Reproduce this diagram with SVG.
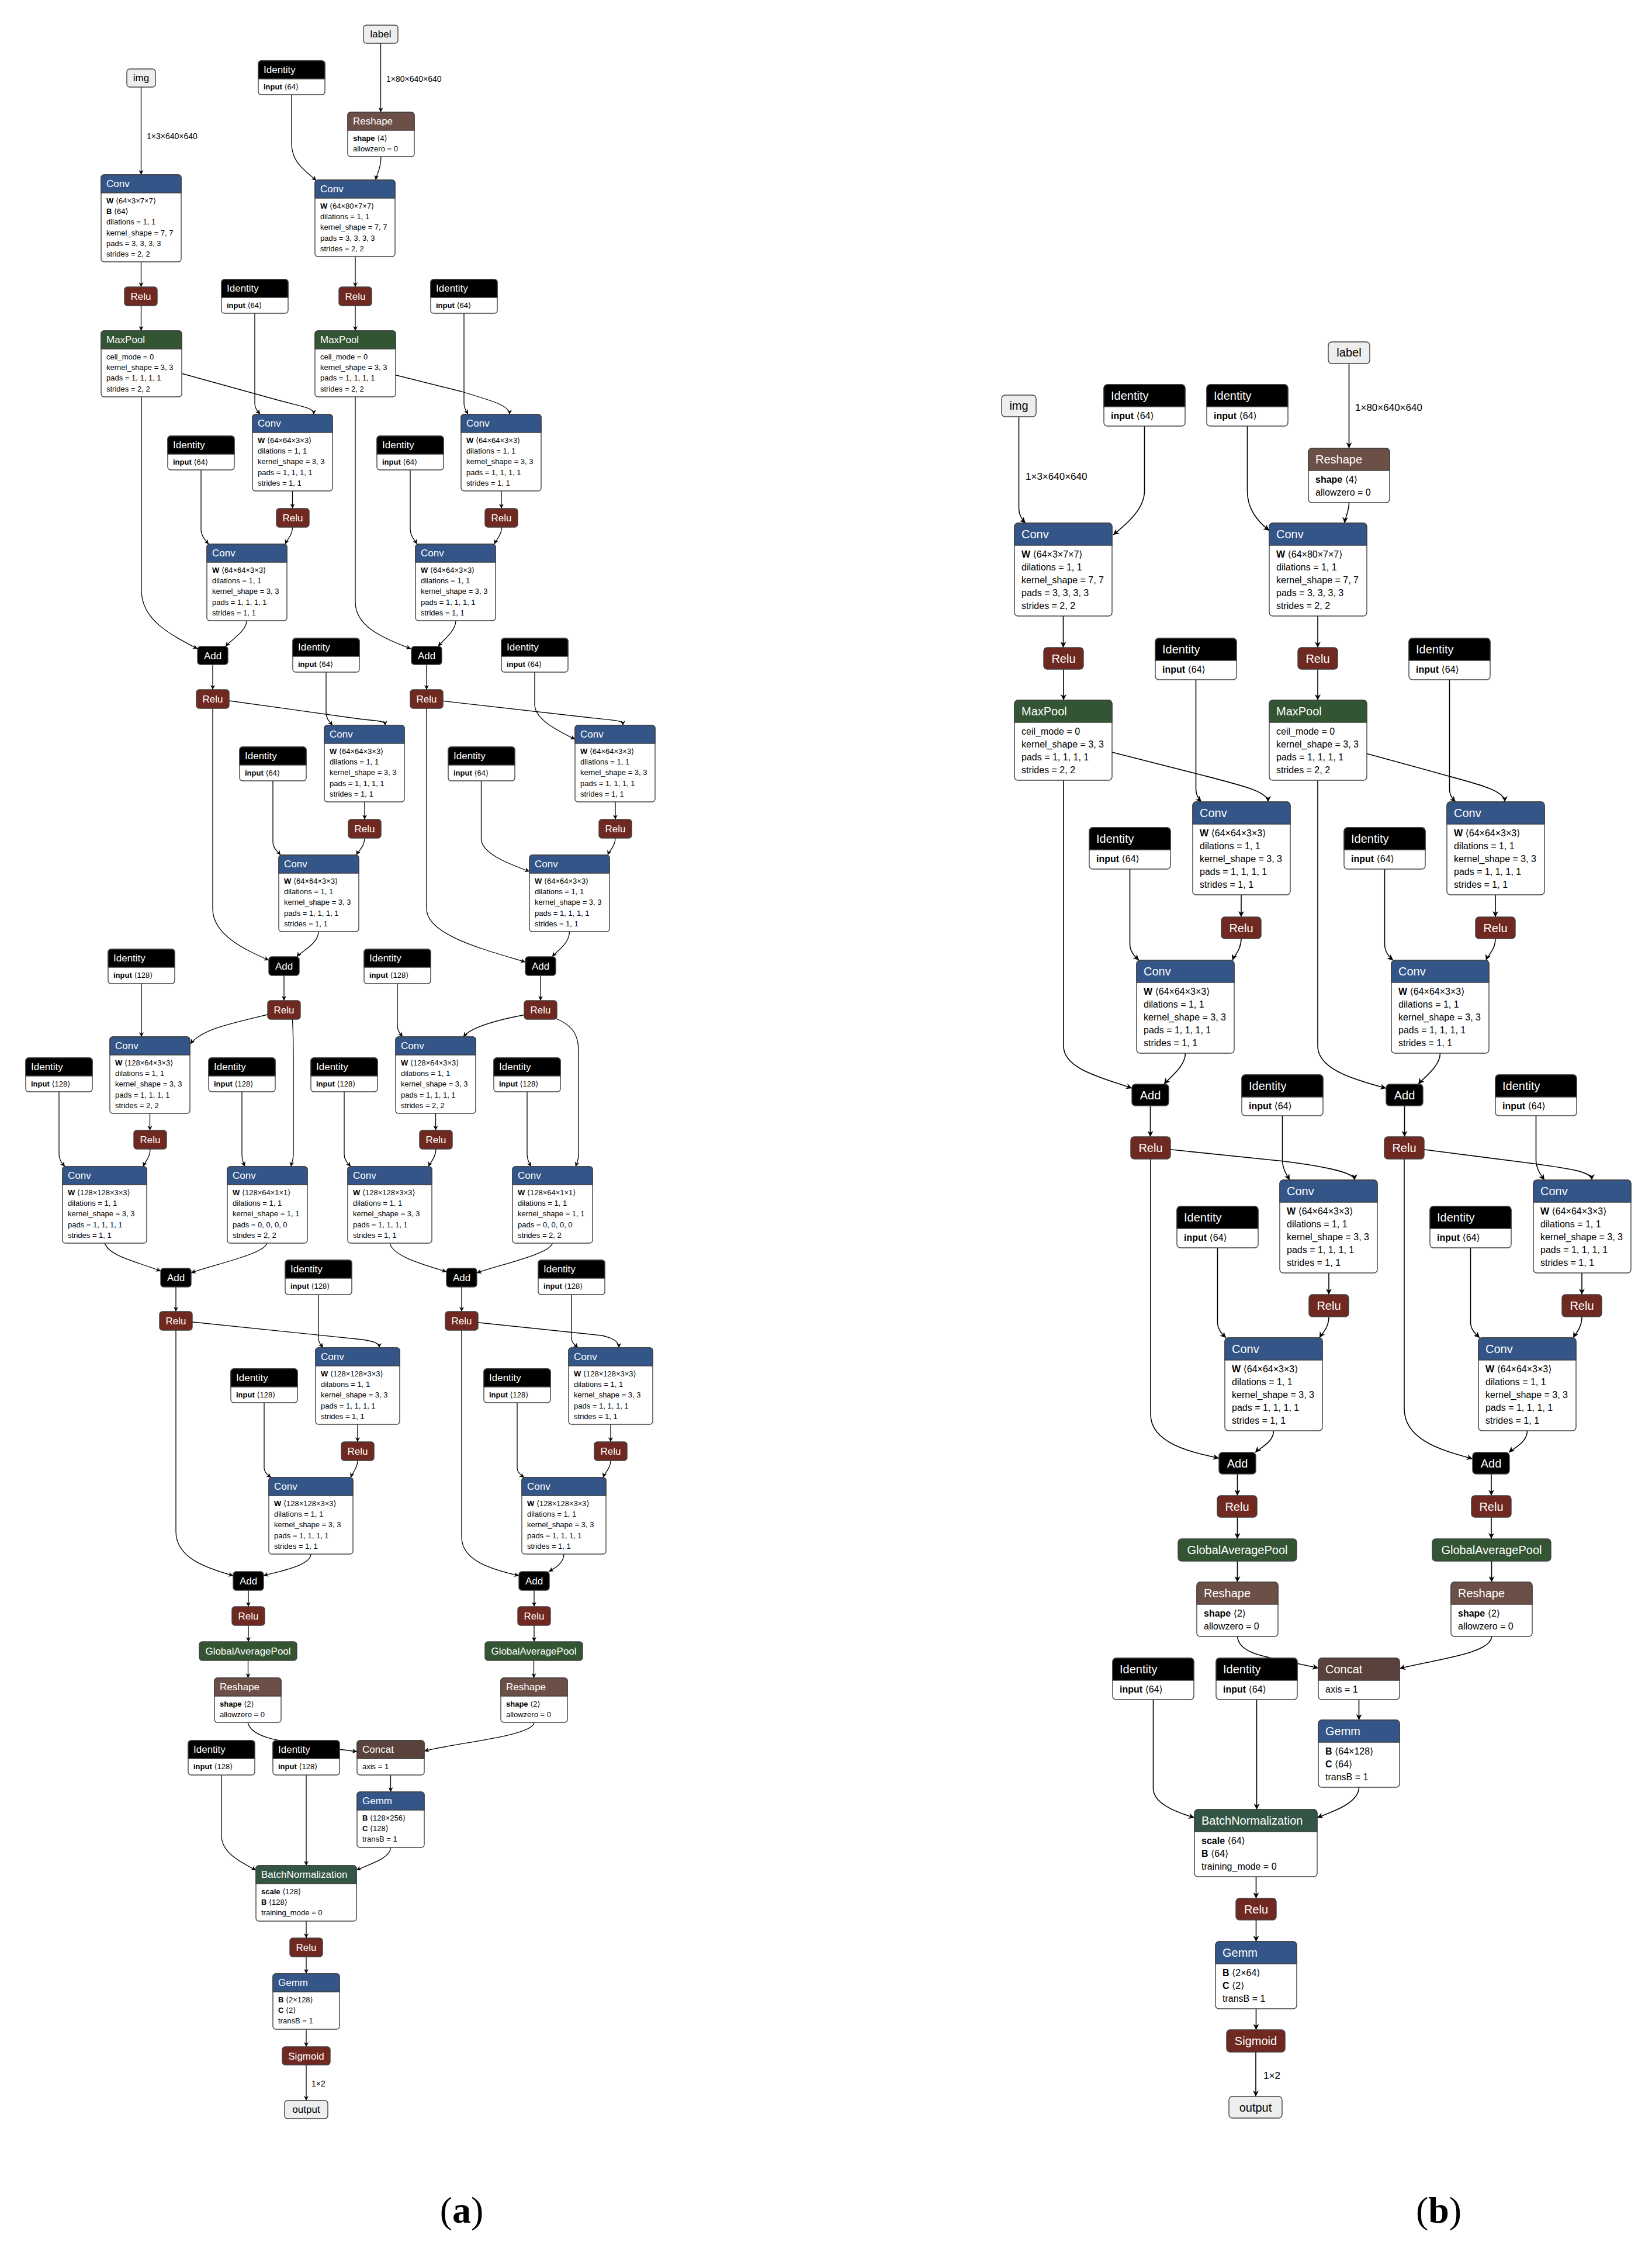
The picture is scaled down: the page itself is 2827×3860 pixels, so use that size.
<svg xmlns="http://www.w3.org/2000/svg" width="2827" height="3860" viewBox="0 0 2827 3860">
<style>
text{font-family:"Liberation Sans","DejaVu Sans",sans-serif}
.t{fill:#fff}.k{fill:#000}.c{text-anchor:middle}.b{font-weight:bold}
.ga .t,.ga .k{font-size:17px}.ga .a{font-size:13px}
.gb .t,.gb .k{font-size:20px}.gb .a{font-size:16px}
.bd{fill:#fff;stroke:#404040;stroke-width:1.4}
.h{stroke:#404040;stroke-width:1.4}
.cv{fill:#335588}.ac{fill:#702921}.pl{fill:#335533}.nm{fill:#335544}.sh{fill:#6c4f47}.tn{fill:#59423b}.bk{fill:#000}.io{fill:#eeeeee}
.la{font-size:14px}.lb{font-size:17px}
.cap{font-family:"Liberation Serif","DejaVu Serif",serif;font-size:64px}
</style>
<defs>
<marker id="ma" viewBox="0 0 10 10" refX="10" refY="5" markerWidth="9" markerHeight="8" orient="auto" markerUnits="userSpaceOnUse"><path d="M0,0L10,5L0,10L3,5z" fill="#000" stroke="none"/></marker>
<marker id="mb" viewBox="0 0 10 10" refX="10" refY="5" markerWidth="11" markerHeight="10" orient="auto" markerUnits="userSpaceOnUse"><path d="M0,0L10,5L0,10L3,5z" fill="#000" stroke="none"/></marker>
</defs>
<rect width="2827" height="3860" fill="#fff"/>
<g id="connectors" fill="none" stroke="#000">
<g id="conn-a" stroke-width="1.3" marker-end="url(#ma)">
<path d="M241.5,149V299"/>
<path d="M651.5,74V192"/>
<path d="M499,162V245C499,280 525,293 541,309"/>
<path d="M652,268C652,290 645,295 643,308"/>
<path d="M241.5,448V491"/>
<path d="M608,439V491"/>
<path d="M241.5,523V566"/>
<path d="M608,523V566"/>
<path d="M436,536V690C436,700 442,705 445,709"/>
<path d="M300,636L470,683C520,697 537,697 537,709"/>
<path d="M500.5,840V870"/>
<path d="M344,804V905C344,917 352,925 357,931"/>
<path d="M500.5,902C500.5,915 492,922 488,931"/>
<path d="M242,679V1010C242,1060 290,1085 338,1110"/>
<path d="M422,1062C422,1080 395,1095 386,1106"/>
<path d="M364,1137V1180"/>
<path d="M385,1198L600,1228C650,1235 659,1232 659,1241"/>
<path d="M558,1150V1220C558,1230 565,1236 569,1241"/>
<path d="M364,1212V1555C364,1600 420,1625 460,1643"/>
<path d="M794,536V690C794,700 799,705 801,709"/>
<path d="M670,640L790,670C850,688 872,695 872,709"/>
<path d="M858,840V870"/>
<path d="M702,804V905C702,917 710,925 714,931"/>
<path d="M858.5,902C858.5,915 850,922 846,931"/>
<path d="M608,679V1030C608,1070 650,1090 703,1110"/>
<path d="M780,1062C780,1080 758,1095 750,1106"/>
<path d="M730,1137V1180"/>
<path d="M755,1199L1010,1228C1055,1233 1066,1232 1066,1241"/>
<path d="M915,1150V1205C915,1230 950,1248 984,1265"/>
<path d="M730,1212V1555C730,1600 830,1625 899,1646"/>
<path d="M624,1372V1402"/>
<path d="M467,1336V1440C467,1452 476,1458 480,1463"/>
<path d="M624,1434C624,1448 614,1455 610,1463"/>
<path d="M545,1594C545,1615 515,1628 508,1637"/>
<path d="M486,1669V1712"/>
<path d="M470,1733C400,1750 345,1760 326,1786"/>
<path d="M500,1740C502,1760 502,1790 502,1820V1975C502,1985 499,1990 498,1996"/>
<path d="M1053,1372V1402"/>
<path d="M823.5,1336V1435C823.5,1460 870,1478 906,1491"/>
<path d="M1053,1434C1053,1448 1043,1455 1040,1463"/>
<path d="M974.5,1594C974.5,1615 952,1628 945,1637"/>
<path d="M925,1669V1712"/>
<path d="M905,1735C850,1745 805,1758 793,1774"/>
<path d="M945,1740C985,1755 990,1775 990,1800V1975C990,1985 987,1990 985,1996"/>
<path d="M242,1683V1774"/>
<path d="M256.5,1904V1934"/>
<path d="M101,1868V1975C101,1985 107,1991 111,1996"/>
<path d="M257,1966C257,1980 248,1988 245,1996"/>
<path d="M414,1868V1975C414,1985 417,1991 419,1996"/>
<path d="M179,2126C185,2150 240,2160 275,2175"/>
<path d="M457,2126C457,2145 360,2165 327,2178"/>
<path d="M301,2202V2244"/>
<path d="M320,2261L620,2292C640,2295 649,2298 649,2306"/>
<path d="M545,2215V2290C545,2298 550,2302 553,2306"/>
<path d="M301,2276V2620C301,2665 350,2682 399,2696"/>
<path d="M680,1683V1755C680,1765 686,1770 689,1774"/>
<path d="M745.5,1904V1934"/>
<path d="M589,1868V1975C589,1985 596,1991 600,1996"/>
<path d="M746,1966C746,1980 737,1988 733,1996"/>
<path d="M902,1868V1975C902,1985 906,1991 909,1996"/>
<path d="M667,2126C670,2150 730,2165 764,2176"/>
<path d="M945.5,2126C945.5,2145 850,2165 816,2178"/>
<path d="M790,2202V2244"/>
<path d="M810,2262L1030,2285C1050,2290 1059,2295 1059,2306"/>
<path d="M978,2215V2290C978,2298 985,2302 989,2306"/>
<path d="M790,2276V2630C790,2670 840,2685 888,2696"/>
<path d="M612,2437V2467"/>
<path d="M452,2400V2512C452,2520 460,2525 464,2528"/>
<path d="M612,2499C612,2512 603,2520 600,2528"/>
<path d="M532,2659C532,2680 470,2690 451,2696"/>
<path d="M425,2721V2749"/>
<path d="M425,2781V2809"/>
<path d="M424.5,2841V2871"/>
<path d="M424,2947C430,2975 490,2980 520,2985L611,2997"/>
<path d="M1045,2437V2467"/>
<path d="M885,2400V2512C885,2520 893,2525 897,2528"/>
<path d="M1045,2499C1045,2512 1035,2520 1032,2528"/>
<path d="M965,2659C965,2675 948,2684 939,2689"/>
<path d="M914,2721V2749"/>
<path d="M914,2781V2809"/>
<path d="M913.5,2841V2871"/>
<path d="M914,2947C914,2970 780,2982 726,2996"/>
<path d="M668.5,3037V3066"/>
<path d="M379,3037V3140C379,3170 410,3185 438,3200"/>
<path d="M524,3037V3192"/>
<path d="M668.5,3161C668.5,3180 630,3190 610,3200"/>
<path d="M524,3287V3316"/>
<path d="M524,3348V3377"/>
<path d="M524,3472V3502"/>
<path d="M524,3533V3594"/>
</g>
<g id="conn-b" stroke-width="1.6" marker-end="url(#mb)">
<path d="M1743.5,713V870C1743.5,882 1750,890 1755,895"/>
<path d="M1958.5,729V840C1958.5,870 1930,895 1905,915"/>
<path d="M2134.5,729V840C2134.5,870 2150,890 2172,908"/>
<path d="M2308.5,622V767"/>
<path d="M2308.5,860C2308.5,875 2302,885 2301,895"/>
<path d="M1819.5,1054V1108"/>
<path d="M2255,1054V1108"/>
<path d="M1820,1145V1198"/>
<path d="M2255,1145V1198"/>
<path d="M2046.5,1163V1350C2046.5,1362 2052,1368 2056,1372"/>
<path d="M1895,1285L2060,1327C2130,1345 2170,1355 2170,1372"/>
<path d="M2124,1531V1569"/>
<path d="M1933.5,1487V1615C1933.5,1630 1944,1638 1949,1643"/>
<path d="M2124,1606C2124,1625 2112,1635 2109,1643"/>
<path d="M1820,1335V1790C1820,1830 1890,1845 1937,1862"/>
<path d="M2028.5,1802C2028.5,1825 2000,1845 1992,1855"/>
<path d="M1968.5,1892V1945"/>
<path d="M1995,1966L2198,1987C2260,1995 2318,2005 2318,2019"/>
<path d="M2194.5,1909V1985C2194.5,2000 2203,2012 2207,2019"/>
<path d="M1969,1983V2420C1969,2470 2040,2485 2086,2495"/>
<path d="M2480.5,1163V1350C2480.5,1362 2487,1368 2491,1372"/>
<path d="M2330,1287L2447,1319C2520,1340 2575,1350 2575,1372"/>
<path d="M2559,1531V1569"/>
<path d="M2369.5,1487V1615C2369.5,1630 2378,1638 2384,1643"/>
<path d="M2559,1606C2559,1625 2546,1635 2543,1643"/>
<path d="M2255,1335V1790C2255,1830 2320,1848 2372,1862"/>
<path d="M2464.5,1802C2464.5,1825 2435,1845 2427,1855"/>
<path d="M2403.5,1892V1945"/>
<path d="M2430,1966L2625,1991C2690,2000 2724,2005 2724,2019"/>
<path d="M2628.5,1909V1985C2628.5,2000 2638,2012 2643,2019"/>
<path d="M2403,1983V2410C2403,2465 2470,2482 2520,2496"/>
<path d="M2274,2178V2215"/>
<path d="M2083.5,2135V2262C2083.5,2276 2093,2284 2098,2289"/>
<path d="M2274,2253C2274,2272 2262,2282 2258,2289"/>
<path d="M2179.5,2448C2179.5,2468 2155,2478 2148,2485"/>
<path d="M2117.5,2522V2559"/>
<path d="M2117.5,2596V2633"/>
<path d="M2117.5,2671V2707"/>
<path d="M2117.5,2800C2120,2830 2170,2835 2200,2842L2256,2854"/>
<path d="M2707,2178V2215"/>
<path d="M2516.5,2135V2262C2516.5,2276 2527,2284 2532,2289"/>
<path d="M2707,2253C2707,2272 2696,2282 2692,2289"/>
<path d="M2613.5,2448C2613.5,2468 2590,2478 2582,2485"/>
<path d="M2552,2522V2559"/>
<path d="M2552,2596V2633"/>
<path d="M2552.5,2671V2707"/>
<path d="M2552.5,2800C2552.5,2830 2450,2840 2395,2855"/>
<path d="M2325.5,2908V2943"/>
<path d="M1973.5,2908V3060C1973.5,3085 2010,3100 2044,3110"/>
<path d="M2150.5,2908V3096"/>
<path d="M2325.5,3058C2325.5,3085 2280,3100 2254,3110"/>
<path d="M2149.5,3211V3248"/>
<path d="M2149.5,3285V3322"/>
<path d="M2149.5,3437V3473"/>
<path d="M2149,3511V3587"/>
</g>
</g>
<g id="edge-labels">
<text class="la" x="251" y="238">1×3×640×640</text>
<text class="la" x="661" y="140">1×80×640×640</text>
<text class="la" x="533" y="3570">1×2</text>
<text class="lb" x="1755" y="821">1×3×640×640</text>
<text class="lb" x="2319" y="703">1×80×640×640</text>
<text class="lb" x="2162" y="3557">1×2</text>
</g>
<g id="graph-a" class="ga">
<g id="a_img" transform="translate(217,118)"><rect class="h io" width="49" height="31" rx="5"/><text class="k c" x="24.5" y="21">img</text></g>
<g id="a_label" transform="translate(622,43)"><rect class="h io" width="59" height="31" rx="5"/><text class="k c" x="29.5" y="21">label</text></g>
<g id="a_id0" transform="translate(442,104)"><rect class="bd" width="114" height="58" rx="5"/><path class="h bk" d="M0,31V5a5,5 0 0 1 5-5h104a5,5 0 0 1 5,5v26z"/><text class="t" x="9" y="21">Identity</text><text class="a" x="9" y="49"><tspan class="b">input</tspan> ⟨64⟩</text></g>
<g id="a_reshape0" transform="translate(595,192)"><rect class="bd" width="114" height="76" rx="5"/><path class="h sh" d="M0,31V5a5,5 0 0 1 5-5h104a5,5 0 0 1 5,5v26z"/><text class="t" x="9" y="21">Reshape</text><text class="a" x="9" y="49"><tspan class="b">shape</tspan> ⟨4⟩<tspan x="9" dy="18.2">allowzero = 0</tspan></text></g>
<g id="a_conv0" transform="translate(173,299)"><rect class="bd" width="137" height="149" rx="5"/><path class="h cv" d="M0,31V5a5,5 0 0 1 5-5h127a5,5 0 0 1 5,5v26z"/><text class="t" x="9" y="21">Conv</text><text class="a" x="9" y="49"><tspan class="b">W</tspan> ⟨64×3×7×7⟩<tspan x="9" dy="18.2" class="b">B</tspan> ⟨64⟩<tspan x="9" dy="18.2">dilations = 1, 1</tspan><tspan x="9" dy="18.2">kernel_shape = 7, 7</tspan><tspan x="9" dy="18.2">pads = 3, 3, 3, 3</tspan><tspan x="9" dy="18.2">strides = 2, 2</tspan></text></g>
<g id="a_conv1" transform="translate(539,308)"><rect class="bd" width="137" height="131" rx="5"/><path class="h cv" d="M0,31V5a5,5 0 0 1 5-5h127a5,5 0 0 1 5,5v26z"/><text class="t" x="9" y="21">Conv</text><text class="a" x="9" y="49"><tspan class="b">W</tspan> ⟨64×80×7×7⟩<tspan x="9" dy="18.2">dilations = 1, 1</tspan><tspan x="9" dy="18.2">kernel_shape = 7, 7</tspan><tspan x="9" dy="18.2">pads = 3, 3, 3, 3</tspan><tspan x="9" dy="18.2">strides = 2, 2</tspan></text></g>
<g id="a_relu0" transform="translate(213,491)"><rect class="h ac" width="56" height="32" rx="5"/><text class="t c" x="28" y="22">Relu</text></g>
<g id="a_relu1" transform="translate(580,491)"><rect class="h ac" width="56" height="32" rx="5"/><text class="t c" x="28" y="22">Relu</text></g>
<g id="a_id1" transform="translate(379,478)"><rect class="bd" width="114" height="58" rx="5"/><path class="h bk" d="M0,31V5a5,5 0 0 1 5-5h104a5,5 0 0 1 5,5v26z"/><text class="t" x="9" y="21">Identity</text><text class="a" x="9" y="49"><tspan class="b">input</tspan> ⟨64⟩</text></g>
<g id="a_id2" transform="translate(737,478)"><rect class="bd" width="114" height="58" rx="5"/><path class="h bk" d="M0,31V5a5,5 0 0 1 5-5h104a5,5 0 0 1 5,5v26z"/><text class="t" x="9" y="21">Identity</text><text class="a" x="9" y="49"><tspan class="b">input</tspan> ⟨64⟩</text></g>
<g id="a_mp0" transform="translate(173,566)"><rect class="bd" width="138" height="113" rx="5"/><path class="h pl" d="M0,31V5a5,5 0 0 1 5-5h128a5,5 0 0 1 5,5v26z"/><text class="t" x="9" y="21">MaxPool</text><text class="a" x="9" y="49">ceil_mode = 0<tspan x="9" dy="18.2">kernel_shape = 3, 3</tspan><tspan x="9" dy="18.2">pads = 1, 1, 1, 1</tspan><tspan x="9" dy="18.2">strides = 2, 2</tspan></text></g>
<g id="a_mp1" transform="translate(539,566)"><rect class="bd" width="138" height="113" rx="5"/><path class="h pl" d="M0,31V5a5,5 0 0 1 5-5h128a5,5 0 0 1 5,5v26z"/><text class="t" x="9" y="21">MaxPool</text><text class="a" x="9" y="49">ceil_mode = 0<tspan x="9" dy="18.2">kernel_shape = 3, 3</tspan><tspan x="9" dy="18.2">pads = 1, 1, 1, 1</tspan><tspan x="9" dy="18.2">strides = 2, 2</tspan></text></g>
<g id="a_conv2" transform="translate(432,709)"><rect class="bd" width="137" height="131" rx="5"/><path class="h cv" d="M0,31V5a5,5 0 0 1 5-5h127a5,5 0 0 1 5,5v26z"/><text class="t" x="9" y="21">Conv</text><text class="a" x="9" y="49"><tspan class="b">W</tspan> ⟨64×64×3×3⟩<tspan x="9" dy="18.2">dilations = 1, 1</tspan><tspan x="9" dy="18.2">kernel_shape = 3, 3</tspan><tspan x="9" dy="18.2">pads = 1, 1, 1, 1</tspan><tspan x="9" dy="18.2">strides = 1, 1</tspan></text></g>
<g id="a_id3" transform="translate(287,746)"><rect class="bd" width="114" height="58" rx="5"/><path class="h bk" d="M0,31V5a5,5 0 0 1 5-5h104a5,5 0 0 1 5,5v26z"/><text class="t" x="9" y="21">Identity</text><text class="a" x="9" y="49"><tspan class="b">input</tspan> ⟨64⟩</text></g>
<g id="a_relu2" transform="translate(473,870)"><rect class="h ac" width="56" height="32" rx="5"/><text class="t c" x="28" y="22">Relu</text></g>
<g id="a_conv3" transform="translate(354,931)"><rect class="bd" width="137" height="131" rx="5"/><path class="h cv" d="M0,31V5a5,5 0 0 1 5-5h127a5,5 0 0 1 5,5v26z"/><text class="t" x="9" y="21">Conv</text><text class="a" x="9" y="49"><tspan class="b">W</tspan> ⟨64×64×3×3⟩<tspan x="9" dy="18.2">dilations = 1, 1</tspan><tspan x="9" dy="18.2">kernel_shape = 3, 3</tspan><tspan x="9" dy="18.2">pads = 1, 1, 1, 1</tspan><tspan x="9" dy="18.2">strides = 1, 1</tspan></text></g>
<g id="a_add0" transform="translate(338,1106)"><rect class="h bk" width="52" height="31" rx="5"/><text class="t c" x="26" y="21.5">Add</text></g>
<g id="a_id4" transform="translate(501,1092)"><rect class="bd" width="114" height="58" rx="5"/><path class="h bk" d="M0,31V5a5,5 0 0 1 5-5h104a5,5 0 0 1 5,5v26z"/><text class="t" x="9" y="21">Identity</text><text class="a" x="9" y="49"><tspan class="b">input</tspan> ⟨64⟩</text></g>
<g id="a_relu3" transform="translate(336,1180)"><rect class="h ac" width="56" height="32" rx="5"/><text class="t c" x="28" y="22">Relu</text></g>
<g id="a_conv4" transform="translate(789,709)"><rect class="bd" width="137" height="131" rx="5"/><path class="h cv" d="M0,31V5a5,5 0 0 1 5-5h127a5,5 0 0 1 5,5v26z"/><text class="t" x="9" y="21">Conv</text><text class="a" x="9" y="49"><tspan class="b">W</tspan> ⟨64×64×3×3⟩<tspan x="9" dy="18.2">dilations = 1, 1</tspan><tspan x="9" dy="18.2">kernel_shape = 3, 3</tspan><tspan x="9" dy="18.2">pads = 1, 1, 1, 1</tspan><tspan x="9" dy="18.2">strides = 1, 1</tspan></text></g>
<g id="a_id5" transform="translate(645,746)"><rect class="bd" width="114" height="58" rx="5"/><path class="h bk" d="M0,31V5a5,5 0 0 1 5-5h104a5,5 0 0 1 5,5v26z"/><text class="t" x="9" y="21">Identity</text><text class="a" x="9" y="49"><tspan class="b">input</tspan> ⟨64⟩</text></g>
<g id="a_relu4" transform="translate(830,870)"><rect class="h ac" width="56" height="32" rx="5"/><text class="t c" x="28" y="22">Relu</text></g>
<g id="a_conv5" transform="translate(711,931)"><rect class="bd" width="137" height="131" rx="5"/><path class="h cv" d="M0,31V5a5,5 0 0 1 5-5h127a5,5 0 0 1 5,5v26z"/><text class="t" x="9" y="21">Conv</text><text class="a" x="9" y="49"><tspan class="b">W</tspan> ⟨64×64×3×3⟩<tspan x="9" dy="18.2">dilations = 1, 1</tspan><tspan x="9" dy="18.2">kernel_shape = 3, 3</tspan><tspan x="9" dy="18.2">pads = 1, 1, 1, 1</tspan><tspan x="9" dy="18.2">strides = 1, 1</tspan></text></g>
<g id="a_add1" transform="translate(704,1106)"><rect class="h bk" width="52" height="31" rx="5"/><text class="t c" x="26" y="21.5">Add</text></g>
<g id="a_id6" transform="translate(858,1092)"><rect class="bd" width="114" height="58" rx="5"/><path class="h bk" d="M0,31V5a5,5 0 0 1 5-5h104a5,5 0 0 1 5,5v26z"/><text class="t" x="9" y="21">Identity</text><text class="a" x="9" y="49"><tspan class="b">input</tspan> ⟨64⟩</text></g>
<g id="a_relu5" transform="translate(702,1180)"><rect class="h ac" width="56" height="32" rx="5"/><text class="t c" x="28" y="22">Relu</text></g>
<g id="a_conv6" transform="translate(555,1241)"><rect class="bd" width="137" height="131" rx="5"/><path class="h cv" d="M0,31V5a5,5 0 0 1 5-5h127a5,5 0 0 1 5,5v26z"/><text class="t" x="9" y="21">Conv</text><text class="a" x="9" y="49"><tspan class="b">W</tspan> ⟨64×64×3×3⟩<tspan x="9" dy="18.2">dilations = 1, 1</tspan><tspan x="9" dy="18.2">kernel_shape = 3, 3</tspan><tspan x="9" dy="18.2">pads = 1, 1, 1, 1</tspan><tspan x="9" dy="18.2">strides = 1, 1</tspan></text></g>
<g id="a_id7" transform="translate(410,1278)"><rect class="bd" width="114" height="58" rx="5"/><path class="h bk" d="M0,31V5a5,5 0 0 1 5-5h104a5,5 0 0 1 5,5v26z"/><text class="t" x="9" y="21">Identity</text><text class="a" x="9" y="49"><tspan class="b">input</tspan> ⟨64⟩</text></g>
<g id="a_relu6" transform="translate(596,1402)"><rect class="h ac" width="56" height="32" rx="5"/><text class="t c" x="28" y="22">Relu</text></g>
<g id="a_conv7" transform="translate(477,1463)"><rect class="bd" width="137" height="131" rx="5"/><path class="h cv" d="M0,31V5a5,5 0 0 1 5-5h127a5,5 0 0 1 5,5v26z"/><text class="t" x="9" y="21">Conv</text><text class="a" x="9" y="49"><tspan class="b">W</tspan> ⟨64×64×3×3⟩<tspan x="9" dy="18.2">dilations = 1, 1</tspan><tspan x="9" dy="18.2">kernel_shape = 3, 3</tspan><tspan x="9" dy="18.2">pads = 1, 1, 1, 1</tspan><tspan x="9" dy="18.2">strides = 1, 1</tspan></text></g>
<g id="a_add2" transform="translate(460,1637)"><rect class="h bk" width="52" height="32" rx="5"/><text class="t c" x="26" y="22">Add</text></g>
<g id="a_relu7" transform="translate(458,1712)"><rect class="h ac" width="56" height="32" rx="5"/><text class="t c" x="28" y="22">Relu</text></g>
<g id="a_conv8" transform="translate(984,1241)"><rect class="bd" width="137" height="131" rx="5"/><path class="h cv" d="M0,31V5a5,5 0 0 1 5-5h127a5,5 0 0 1 5,5v26z"/><text class="t" x="9" y="21">Conv</text><text class="a" x="9" y="49"><tspan class="b">W</tspan> ⟨64×64×3×3⟩<tspan x="9" dy="18.2">dilations = 1, 1</tspan><tspan x="9" dy="18.2">kernel_shape = 3, 3</tspan><tspan x="9" dy="18.2">pads = 1, 1, 1, 1</tspan><tspan x="9" dy="18.2">strides = 1, 1</tspan></text></g>
<g id="a_id8" transform="translate(767,1278)"><rect class="bd" width="114" height="58" rx="5"/><path class="h bk" d="M0,31V5a5,5 0 0 1 5-5h104a5,5 0 0 1 5,5v26z"/><text class="t" x="9" y="21">Identity</text><text class="a" x="9" y="49"><tspan class="b">input</tspan> ⟨64⟩</text></g>
<g id="a_relu8" transform="translate(1025,1402)"><rect class="h ac" width="56" height="32" rx="5"/><text class="t c" x="28" y="22">Relu</text></g>
<g id="a_conv9" transform="translate(906,1463)"><rect class="bd" width="137" height="131" rx="5"/><path class="h cv" d="M0,31V5a5,5 0 0 1 5-5h127a5,5 0 0 1 5,5v26z"/><text class="t" x="9" y="21">Conv</text><text class="a" x="9" y="49"><tspan class="b">W</tspan> ⟨64×64×3×3⟩<tspan x="9" dy="18.2">dilations = 1, 1</tspan><tspan x="9" dy="18.2">kernel_shape = 3, 3</tspan><tspan x="9" dy="18.2">pads = 1, 1, 1, 1</tspan><tspan x="9" dy="18.2">strides = 1, 1</tspan></text></g>
<g id="a_add3" transform="translate(899,1637)"><rect class="h bk" width="52" height="32" rx="5"/><text class="t c" x="26" y="22">Add</text></g>
<g id="a_relu9" transform="translate(897,1712)"><rect class="h ac" width="56" height="32" rx="5"/><text class="t c" x="28" y="22">Relu</text></g>
<g id="a_id9" transform="translate(185,1624)"><rect class="bd" width="114" height="59" rx="5"/><path class="h bk" d="M0,31V5a5,5 0 0 1 5-5h104a5,5 0 0 1 5,5v26z"/><text class="t" x="9" y="21">Identity</text><text class="a" x="9" y="49"><tspan class="b">input</tspan> ⟨128⟩</text></g>
<g id="a_conv10" transform="translate(188,1774)"><rect class="bd" width="137" height="131" rx="5"/><path class="h cv" d="M0,31V5a5,5 0 0 1 5-5h127a5,5 0 0 1 5,5v26z"/><text class="t" x="9" y="21">Conv</text><text class="a" x="9" y="49"><tspan class="b">W</tspan> ⟨128×64×3×3⟩<tspan x="9" dy="18.2">dilations = 1, 1</tspan><tspan x="9" dy="18.2">kernel_shape = 3, 3</tspan><tspan x="9" dy="18.2">pads = 1, 1, 1, 1</tspan><tspan x="9" dy="18.2">strides = 2, 2</tspan></text></g>
<g id="a_id10" transform="translate(44,1810)"><rect class="bd" width="114" height="58" rx="5"/><path class="h bk" d="M0,31V5a5,5 0 0 1 5-5h104a5,5 0 0 1 5,5v26z"/><text class="t" x="9" y="21">Identity</text><text class="a" x="9" y="49"><tspan class="b">input</tspan> ⟨128⟩</text></g>
<g id="a_id11" transform="translate(357,1810)"><rect class="bd" width="114" height="58" rx="5"/><path class="h bk" d="M0,31V5a5,5 0 0 1 5-5h104a5,5 0 0 1 5,5v26z"/><text class="t" x="9" y="21">Identity</text><text class="a" x="9" y="49"><tspan class="b">input</tspan> ⟨128⟩</text></g>
<g id="a_relu10" transform="translate(229,1934)"><rect class="h ac" width="56" height="32" rx="5"/><text class="t c" x="28" y="22">Relu</text></g>
<g id="a_conv11" transform="translate(107,1996)"><rect class="bd" width="144" height="131" rx="5"/><path class="h cv" d="M0,31V5a5,5 0 0 1 5-5h134a5,5 0 0 1 5,5v26z"/><text class="t" x="9" y="21">Conv</text><text class="a" x="9" y="49"><tspan class="b">W</tspan> ⟨128×128×3×3⟩<tspan x="9" dy="18.2">dilations = 1, 1</tspan><tspan x="9" dy="18.2">kernel_shape = 3, 3</tspan><tspan x="9" dy="18.2">pads = 1, 1, 1, 1</tspan><tspan x="9" dy="18.2">strides = 1, 1</tspan></text></g>
<g id="a_conv12" transform="translate(389,1996)"><rect class="bd" width="137" height="131" rx="5"/><path class="h cv" d="M0,31V5a5,5 0 0 1 5-5h127a5,5 0 0 1 5,5v26z"/><text class="t" x="9" y="21">Conv</text><text class="a" x="9" y="49"><tspan class="b">W</tspan> ⟨128×64×1×1⟩<tspan x="9" dy="18.2">dilations = 1, 1</tspan><tspan x="9" dy="18.2">kernel_shape = 1, 1</tspan><tspan x="9" dy="18.2">pads = 0, 0, 0, 0</tspan><tspan x="9" dy="18.2">strides = 2, 2</tspan></text></g>
<g id="a_add4" transform="translate(275,2170)"><rect class="h bk" width="52" height="32" rx="5"/><text class="t c" x="26" y="22">Add</text></g>
<g id="a_id12" transform="translate(488,2156)"><rect class="bd" width="114" height="59" rx="5"/><path class="h bk" d="M0,31V5a5,5 0 0 1 5-5h104a5,5 0 0 1 5,5v26z"/><text class="t" x="9" y="21">Identity</text><text class="a" x="9" y="49"><tspan class="b">input</tspan> ⟨128⟩</text></g>
<g id="a_relu11" transform="translate(273,2244)"><rect class="h ac" width="56" height="32" rx="5"/><text class="t c" x="28" y="22">Relu</text></g>
<g id="a_id13" transform="translate(623,1624)"><rect class="bd" width="114" height="59" rx="5"/><path class="h bk" d="M0,31V5a5,5 0 0 1 5-5h104a5,5 0 0 1 5,5v26z"/><text class="t" x="9" y="21">Identity</text><text class="a" x="9" y="49"><tspan class="b">input</tspan> ⟨128⟩</text></g>
<g id="a_conv13" transform="translate(677,1774)"><rect class="bd" width="137" height="131" rx="5"/><path class="h cv" d="M0,31V5a5,5 0 0 1 5-5h127a5,5 0 0 1 5,5v26z"/><text class="t" x="9" y="21">Conv</text><text class="a" x="9" y="49"><tspan class="b">W</tspan> ⟨128×64×3×3⟩<tspan x="9" dy="18.2">dilations = 1, 1</tspan><tspan x="9" dy="18.2">kernel_shape = 3, 3</tspan><tspan x="9" dy="18.2">pads = 1, 1, 1, 1</tspan><tspan x="9" dy="18.2">strides = 2, 2</tspan></text></g>
<g id="a_id14" transform="translate(532,1810)"><rect class="bd" width="114" height="58" rx="5"/><path class="h bk" d="M0,31V5a5,5 0 0 1 5-5h104a5,5 0 0 1 5,5v26z"/><text class="t" x="9" y="21">Identity</text><text class="a" x="9" y="49"><tspan class="b">input</tspan> ⟨128⟩</text></g>
<g id="a_id15" transform="translate(845,1810)"><rect class="bd" width="114" height="58" rx="5"/><path class="h bk" d="M0,31V5a5,5 0 0 1 5-5h104a5,5 0 0 1 5,5v26z"/><text class="t" x="9" y="21">Identity</text><text class="a" x="9" y="49"><tspan class="b">input</tspan> ⟨128⟩</text></g>
<g id="a_relu12" transform="translate(718,1934)"><rect class="h ac" width="56" height="32" rx="5"/><text class="t c" x="28" y="22">Relu</text></g>
<g id="a_conv14" transform="translate(595,1996)"><rect class="bd" width="144" height="131" rx="5"/><path class="h cv" d="M0,31V5a5,5 0 0 1 5-5h134a5,5 0 0 1 5,5v26z"/><text class="t" x="9" y="21">Conv</text><text class="a" x="9" y="49"><tspan class="b">W</tspan> ⟨128×128×3×3⟩<tspan x="9" dy="18.2">dilations = 1, 1</tspan><tspan x="9" dy="18.2">kernel_shape = 3, 3</tspan><tspan x="9" dy="18.2">pads = 1, 1, 1, 1</tspan><tspan x="9" dy="18.2">strides = 1, 1</tspan></text></g>
<g id="a_conv15" transform="translate(877,1996)"><rect class="bd" width="137" height="131" rx="5"/><path class="h cv" d="M0,31V5a5,5 0 0 1 5-5h127a5,5 0 0 1 5,5v26z"/><text class="t" x="9" y="21">Conv</text><text class="a" x="9" y="49"><tspan class="b">W</tspan> ⟨128×64×1×1⟩<tspan x="9" dy="18.2">dilations = 1, 1</tspan><tspan x="9" dy="18.2">kernel_shape = 1, 1</tspan><tspan x="9" dy="18.2">pads = 0, 0, 0, 0</tspan><tspan x="9" dy="18.2">strides = 2, 2</tspan></text></g>
<g id="a_add5" transform="translate(764,2170)"><rect class="h bk" width="52" height="32" rx="5"/><text class="t c" x="26" y="22">Add</text></g>
<g id="a_id16" transform="translate(921,2156)"><rect class="bd" width="114" height="59" rx="5"/><path class="h bk" d="M0,31V5a5,5 0 0 1 5-5h104a5,5 0 0 1 5,5v26z"/><text class="t" x="9" y="21">Identity</text><text class="a" x="9" y="49"><tspan class="b">input</tspan> ⟨128⟩</text></g>
<g id="a_relu13" transform="translate(762,2244)"><rect class="h ac" width="56" height="32" rx="5"/><text class="t c" x="28" y="22">Relu</text></g>
<g id="a_conv16" transform="translate(540,2306)"><rect class="bd" width="144" height="131" rx="5"/><path class="h cv" d="M0,31V5a5,5 0 0 1 5-5h134a5,5 0 0 1 5,5v26z"/><text class="t" x="9" y="21">Conv</text><text class="a" x="9" y="49"><tspan class="b">W</tspan> ⟨128×128×3×3⟩<tspan x="9" dy="18.2">dilations = 1, 1</tspan><tspan x="9" dy="18.2">kernel_shape = 3, 3</tspan><tspan x="9" dy="18.2">pads = 1, 1, 1, 1</tspan><tspan x="9" dy="18.2">strides = 1, 1</tspan></text></g>
<g id="a_id17" transform="translate(395,2342)"><rect class="bd" width="114" height="58" rx="5"/><path class="h bk" d="M0,31V5a5,5 0 0 1 5-5h104a5,5 0 0 1 5,5v26z"/><text class="t" x="9" y="21">Identity</text><text class="a" x="9" y="49"><tspan class="b">input</tspan> ⟨128⟩</text></g>
<g id="a_relu14" transform="translate(584,2467)"><rect class="h ac" width="56" height="32" rx="5"/><text class="t c" x="28" y="22">Relu</text></g>
<g id="a_conv17" transform="translate(460,2528)"><rect class="bd" width="144" height="131" rx="5"/><path class="h cv" d="M0,31V5a5,5 0 0 1 5-5h134a5,5 0 0 1 5,5v26z"/><text class="t" x="9" y="21">Conv</text><text class="a" x="9" y="49"><tspan class="b">W</tspan> ⟨128×128×3×3⟩<tspan x="9" dy="18.2">dilations = 1, 1</tspan><tspan x="9" dy="18.2">kernel_shape = 3, 3</tspan><tspan x="9" dy="18.2">pads = 1, 1, 1, 1</tspan><tspan x="9" dy="18.2">strides = 1, 1</tspan></text></g>
<g id="a_add6" transform="translate(399,2689)"><rect class="h bk" width="52" height="32" rx="5"/><text class="t c" x="26" y="22">Add</text></g>
<g id="a_relu15" transform="translate(397,2749)"><rect class="h ac" width="56" height="32" rx="5"/><text class="t c" x="28" y="22">Relu</text></g>
<g id="a_gap0" transform="translate(341,2809)"><rect class="h pl" width="167" height="32" rx="5"/><text class="t c" x="83.5" y="22">GlobalAveragePool</text></g>
<g id="a_reshape1" transform="translate(367,2871)"><rect class="bd" width="114" height="76" rx="5"/><path class="h sh" d="M0,31V5a5,5 0 0 1 5-5h104a5,5 0 0 1 5,5v26z"/><text class="t" x="9" y="21">Reshape</text><text class="a" x="9" y="49"><tspan class="b">shape</tspan> ⟨2⟩<tspan x="9" dy="18.2">allowzero = 0</tspan></text></g>
<g id="a_conv18" transform="translate(973,2306)"><rect class="bd" width="144" height="131" rx="5"/><path class="h cv" d="M0,31V5a5,5 0 0 1 5-5h134a5,5 0 0 1 5,5v26z"/><text class="t" x="9" y="21">Conv</text><text class="a" x="9" y="49"><tspan class="b">W</tspan> ⟨128×128×3×3⟩<tspan x="9" dy="18.2">dilations = 1, 1</tspan><tspan x="9" dy="18.2">kernel_shape = 3, 3</tspan><tspan x="9" dy="18.2">pads = 1, 1, 1, 1</tspan><tspan x="9" dy="18.2">strides = 1, 1</tspan></text></g>
<g id="a_id18" transform="translate(828,2342)"><rect class="bd" width="114" height="58" rx="5"/><path class="h bk" d="M0,31V5a5,5 0 0 1 5-5h104a5,5 0 0 1 5,5v26z"/><text class="t" x="9" y="21">Identity</text><text class="a" x="9" y="49"><tspan class="b">input</tspan> ⟨128⟩</text></g>
<g id="a_relu16" transform="translate(1017,2467)"><rect class="h ac" width="56" height="32" rx="5"/><text class="t c" x="28" y="22">Relu</text></g>
<g id="a_conv19" transform="translate(893,2528)"><rect class="bd" width="144" height="131" rx="5"/><path class="h cv" d="M0,31V5a5,5 0 0 1 5-5h134a5,5 0 0 1 5,5v26z"/><text class="t" x="9" y="21">Conv</text><text class="a" x="9" y="49"><tspan class="b">W</tspan> ⟨128×128×3×3⟩<tspan x="9" dy="18.2">dilations = 1, 1</tspan><tspan x="9" dy="18.2">kernel_shape = 3, 3</tspan><tspan x="9" dy="18.2">pads = 1, 1, 1, 1</tspan><tspan x="9" dy="18.2">strides = 1, 1</tspan></text></g>
<g id="a_add7" transform="translate(888,2689)"><rect class="h bk" width="52" height="32" rx="5"/><text class="t c" x="26" y="22">Add</text></g>
<g id="a_relu17" transform="translate(886,2749)"><rect class="h ac" width="56" height="32" rx="5"/><text class="t c" x="28" y="22">Relu</text></g>
<g id="a_gap1" transform="translate(830,2809)"><rect class="h pl" width="167" height="32" rx="5"/><text class="t c" x="83.5" y="22">GlobalAveragePool</text></g>
<g id="a_reshape2" transform="translate(857,2871)"><rect class="bd" width="114" height="76" rx="5"/><path class="h sh" d="M0,31V5a5,5 0 0 1 5-5h104a5,5 0 0 1 5,5v26z"/><text class="t" x="9" y="21">Reshape</text><text class="a" x="9" y="49"><tspan class="b">shape</tspan> ⟨2⟩<tspan x="9" dy="18.2">allowzero = 0</tspan></text></g>
<g id="a_id19" transform="translate(322,2978)"><rect class="bd" width="114" height="59" rx="5"/><path class="h bk" d="M0,31V5a5,5 0 0 1 5-5h104a5,5 0 0 1 5,5v26z"/><text class="t" x="9" y="21">Identity</text><text class="a" x="9" y="49"><tspan class="b">input</tspan> ⟨128⟩</text></g>
<g id="a_id20" transform="translate(467,2978)"><rect class="bd" width="114" height="59" rx="5"/><path class="h bk" d="M0,31V5a5,5 0 0 1 5-5h104a5,5 0 0 1 5,5v26z"/><text class="t" x="9" y="21">Identity</text><text class="a" x="9" y="49"><tspan class="b">input</tspan> ⟨128⟩</text></g>
<g id="a_concat" transform="translate(611,2978)"><rect class="bd" width="115" height="59" rx="5"/><path class="h tn" d="M0,31V5a5,5 0 0 1 5-5h105a5,5 0 0 1 5,5v26z"/><text class="t" x="9" y="21">Concat</text><text class="a" x="9" y="49">axis = 1</text></g>
<g id="a_gemm0" transform="translate(611,3066)"><rect class="bd" width="115" height="95" rx="5"/><path class="h cv" d="M0,31V5a5,5 0 0 1 5-5h105a5,5 0 0 1 5,5v26z"/><text class="t" x="9" y="21">Gemm</text><text class="a" x="9" y="49"><tspan class="b">B</tspan> ⟨128×256⟩<tspan x="9" dy="18.2" class="b">C</tspan> ⟨128⟩<tspan x="9" dy="18.2">transB = 1</tspan></text></g>
<g id="a_bn" transform="translate(438,3192)"><rect class="bd" width="172" height="95" rx="5"/><path class="h nm" d="M0,31V5a5,5 0 0 1 5-5h162a5,5 0 0 1 5,5v26z"/><text class="t" x="9" y="21">BatchNormalization</text><text class="a" x="9" y="49"><tspan class="b">scale</tspan> ⟨128⟩<tspan x="9" dy="18.2" class="b">B</tspan> ⟨128⟩<tspan x="9" dy="18.2">training_mode = 0</tspan></text></g>
<g id="a_relu18" transform="translate(496,3316)"><rect class="h ac" width="56" height="32" rx="5"/><text class="t c" x="28" y="22">Relu</text></g>
<g id="a_gemm1" transform="translate(467,3377)"><rect class="bd" width="114" height="95" rx="5"/><path class="h cv" d="M0,31V5a5,5 0 0 1 5-5h104a5,5 0 0 1 5,5v26z"/><text class="t" x="9" y="21">Gemm</text><text class="a" x="9" y="49"><tspan class="b">B</tspan> ⟨2×128⟩<tspan x="9" dy="18.2" class="b">C</tspan> ⟨2⟩<tspan x="9" dy="18.2">transB = 1</tspan></text></g>
<g id="a_sigmoid" transform="translate(483,3502)"><rect class="h ac" width="82" height="31" rx="5"/><text class="t c" x="41" y="21.5">Sigmoid</text></g>
<g id="a_output" transform="translate(487,3594)"><rect class="h io" width="74" height="31" rx="5"/><text class="k c" x="37" y="21">output</text></g>
</g>
<g id="graph-b" class="gb">
<g id="b_img" transform="translate(1714,676)"><rect class="h io" width="59" height="37" rx="6"/><text class="k c" x="29.5" y="25">img</text></g>
<g id="b_label" transform="translate(2273,585)"><rect class="h io" width="71" height="37" rx="6"/><text class="k c" x="35.5" y="25">label</text></g>
<g id="b_id0" transform="translate(1889,658)"><rect class="bd" width="139" height="71" rx="6"/><path class="h bk" d="M0,38V6a6,6 0 0 1 6-6h127a6,6 0 0 1 6,6v32z"/><text class="t" x="12" y="25.5">Identity</text><text class="a" x="12" y="59"><tspan class="b">input</tspan> ⟨64⟩</text></g>
<g id="b_id1" transform="translate(2065,658)"><rect class="bd" width="139" height="71" rx="6"/><path class="h bk" d="M0,38V6a6,6 0 0 1 6-6h127a6,6 0 0 1 6,6v32z"/><text class="t" x="12" y="25.5">Identity</text><text class="a" x="12" y="59"><tspan class="b">input</tspan> ⟨64⟩</text></g>
<g id="b_reshape0" transform="translate(2239,767)"><rect class="bd" width="139" height="93" rx="6"/><path class="h sh" d="M0,38V6a6,6 0 0 1 6-6h127a6,6 0 0 1 6,6v32z"/><text class="t" x="12" y="25.5">Reshape</text><text class="a" x="12" y="59"><tspan class="b">shape</tspan> ⟨4⟩<tspan x="12" dy="22">allowzero = 0</tspan></text></g>
<g id="b_conv0" transform="translate(1736,895)"><rect class="bd" width="167" height="159" rx="6"/><path class="h cv" d="M0,38V6a6,6 0 0 1 6-6h155a6,6 0 0 1 6,6v32z"/><text class="t" x="12" y="25.5">Conv</text><text class="a" x="12" y="59"><tspan class="b">W</tspan> ⟨64×3×7×7⟩<tspan x="12" dy="22">dilations = 1, 1</tspan><tspan x="12" dy="22">kernel_shape = 7, 7</tspan><tspan x="12" dy="22">pads = 3, 3, 3, 3</tspan><tspan x="12" dy="22">strides = 2, 2</tspan></text></g>
<g id="b_conv1" transform="translate(2172,895)"><rect class="bd" width="167" height="159" rx="6"/><path class="h cv" d="M0,38V6a6,6 0 0 1 6-6h155a6,6 0 0 1 6,6v32z"/><text class="t" x="12" y="25.5">Conv</text><text class="a" x="12" y="59"><tspan class="b">W</tspan> ⟨64×80×7×7⟩<tspan x="12" dy="22">dilations = 1, 1</tspan><tspan x="12" dy="22">kernel_shape = 7, 7</tspan><tspan x="12" dy="22">pads = 3, 3, 3, 3</tspan><tspan x="12" dy="22">strides = 2, 2</tspan></text></g>
<g id="b_relu0" transform="translate(1786,1108)"><rect class="h ac" width="68" height="37" rx="6"/><text class="t c" x="34" y="25.5">Relu</text></g>
<g id="b_relu1" transform="translate(2221,1108)"><rect class="h ac" width="68" height="37" rx="6"/><text class="t c" x="34" y="25.5">Relu</text></g>
<g id="b_id2" transform="translate(1977,1092)"><rect class="bd" width="139" height="71" rx="6"/><path class="h bk" d="M0,38V6a6,6 0 0 1 6-6h127a6,6 0 0 1 6,6v32z"/><text class="t" x="12" y="25.5">Identity</text><text class="a" x="12" y="59"><tspan class="b">input</tspan> ⟨64⟩</text></g>
<g id="b_id3" transform="translate(2411,1092)"><rect class="bd" width="139" height="71" rx="6"/><path class="h bk" d="M0,38V6a6,6 0 0 1 6-6h127a6,6 0 0 1 6,6v32z"/><text class="t" x="12" y="25.5">Identity</text><text class="a" x="12" y="59"><tspan class="b">input</tspan> ⟨64⟩</text></g>
<g id="b_mp0" transform="translate(1736,1198)"><rect class="bd" width="167" height="137" rx="6"/><path class="h pl" d="M0,38V6a6,6 0 0 1 6-6h155a6,6 0 0 1 6,6v32z"/><text class="t" x="12" y="25.5">MaxPool</text><text class="a" x="12" y="59">ceil_mode = 0<tspan x="12" dy="22">kernel_shape = 3, 3</tspan><tspan x="12" dy="22">pads = 1, 1, 1, 1</tspan><tspan x="12" dy="22">strides = 2, 2</tspan></text></g>
<g id="b_mp1" transform="translate(2172,1198)"><rect class="bd" width="167" height="137" rx="6"/><path class="h pl" d="M0,38V6a6,6 0 0 1 6-6h155a6,6 0 0 1 6,6v32z"/><text class="t" x="12" y="25.5">MaxPool</text><text class="a" x="12" y="59">ceil_mode = 0<tspan x="12" dy="22">kernel_shape = 3, 3</tspan><tspan x="12" dy="22">pads = 1, 1, 1, 1</tspan><tspan x="12" dy="22">strides = 2, 2</tspan></text></g>
<g id="b_conv2" transform="translate(2041,1372)"><rect class="bd" width="167" height="159" rx="6"/><path class="h cv" d="M0,38V6a6,6 0 0 1 6-6h155a6,6 0 0 1 6,6v32z"/><text class="t" x="12" y="25.5">Conv</text><text class="a" x="12" y="59"><tspan class="b">W</tspan> ⟨64×64×3×3⟩<tspan x="12" dy="22">dilations = 1, 1</tspan><tspan x="12" dy="22">kernel_shape = 3, 3</tspan><tspan x="12" dy="22">pads = 1, 1, 1, 1</tspan><tspan x="12" dy="22">strides = 1, 1</tspan></text></g>
<g id="b_id4" transform="translate(1864,1416)"><rect class="bd" width="139" height="71" rx="6"/><path class="h bk" d="M0,38V6a6,6 0 0 1 6-6h127a6,6 0 0 1 6,6v32z"/><text class="t" x="12" y="25.5">Identity</text><text class="a" x="12" y="59"><tspan class="b">input</tspan> ⟨64⟩</text></g>
<g id="b_relu2" transform="translate(2090,1569)"><rect class="h ac" width="68" height="37" rx="6"/><text class="t c" x="34" y="25.5">Relu</text></g>
<g id="b_conv3" transform="translate(1945,1643)"><rect class="bd" width="167" height="159" rx="6"/><path class="h cv" d="M0,38V6a6,6 0 0 1 6-6h155a6,6 0 0 1 6,6v32z"/><text class="t" x="12" y="25.5">Conv</text><text class="a" x="12" y="59"><tspan class="b">W</tspan> ⟨64×64×3×3⟩<tspan x="12" dy="22">dilations = 1, 1</tspan><tspan x="12" dy="22">kernel_shape = 3, 3</tspan><tspan x="12" dy="22">pads = 1, 1, 1, 1</tspan><tspan x="12" dy="22">strides = 1, 1</tspan></text></g>
<g id="b_add0" transform="translate(1937,1855)"><rect class="h bk" width="63" height="37" rx="6"/><text class="t c" x="31.5" y="25.5">Add</text></g>
<g id="b_id5" transform="translate(2125,1839)"><rect class="bd" width="139" height="70" rx="6"/><path class="h bk" d="M0,38V6a6,6 0 0 1 6-6h127a6,6 0 0 1 6,6v32z"/><text class="t" x="12" y="25.5">Identity</text><text class="a" x="12" y="59"><tspan class="b">input</tspan> ⟨64⟩</text></g>
<g id="b_relu3" transform="translate(1935,1945)"><rect class="h ac" width="68" height="38" rx="6"/><text class="t c" x="34" y="26">Relu</text></g>
<g id="b_conv4" transform="translate(2476,1372)"><rect class="bd" width="167" height="159" rx="6"/><path class="h cv" d="M0,38V6a6,6 0 0 1 6-6h155a6,6 0 0 1 6,6v32z"/><text class="t" x="12" y="25.5">Conv</text><text class="a" x="12" y="59"><tspan class="b">W</tspan> ⟨64×64×3×3⟩<tspan x="12" dy="22">dilations = 1, 1</tspan><tspan x="12" dy="22">kernel_shape = 3, 3</tspan><tspan x="12" dy="22">pads = 1, 1, 1, 1</tspan><tspan x="12" dy="22">strides = 1, 1</tspan></text></g>
<g id="b_id6" transform="translate(2300,1416)"><rect class="bd" width="139" height="71" rx="6"/><path class="h bk" d="M0,38V6a6,6 0 0 1 6-6h127a6,6 0 0 1 6,6v32z"/><text class="t" x="12" y="25.5">Identity</text><text class="a" x="12" y="59"><tspan class="b">input</tspan> ⟨64⟩</text></g>
<g id="b_relu4" transform="translate(2525,1569)"><rect class="h ac" width="68" height="37" rx="6"/><text class="t c" x="34" y="25.5">Relu</text></g>
<g id="b_conv5" transform="translate(2381,1643)"><rect class="bd" width="167" height="159" rx="6"/><path class="h cv" d="M0,38V6a6,6 0 0 1 6-6h155a6,6 0 0 1 6,6v32z"/><text class="t" x="12" y="25.5">Conv</text><text class="a" x="12" y="59"><tspan class="b">W</tspan> ⟨64×64×3×3⟩<tspan x="12" dy="22">dilations = 1, 1</tspan><tspan x="12" dy="22">kernel_shape = 3, 3</tspan><tspan x="12" dy="22">pads = 1, 1, 1, 1</tspan><tspan x="12" dy="22">strides = 1, 1</tspan></text></g>
<g id="b_add1" transform="translate(2372,1855)"><rect class="h bk" width="63" height="37" rx="6"/><text class="t c" x="31.5" y="25.5">Add</text></g>
<g id="b_id7" transform="translate(2559,1839)"><rect class="bd" width="139" height="70" rx="6"/><path class="h bk" d="M0,38V6a6,6 0 0 1 6-6h127a6,6 0 0 1 6,6v32z"/><text class="t" x="12" y="25.5">Identity</text><text class="a" x="12" y="59"><tspan class="b">input</tspan> ⟨64⟩</text></g>
<g id="b_relu5" transform="translate(2369,1945)"><rect class="h ac" width="68" height="38" rx="6"/><text class="t c" x="34" y="26">Relu</text></g>
<g id="b_conv6" transform="translate(2190,2019)"><rect class="bd" width="167" height="159" rx="6"/><path class="h cv" d="M0,38V6a6,6 0 0 1 6-6h155a6,6 0 0 1 6,6v32z"/><text class="t" x="12" y="25.5">Conv</text><text class="a" x="12" y="59"><tspan class="b">W</tspan> ⟨64×64×3×3⟩<tspan x="12" dy="22">dilations = 1, 1</tspan><tspan x="12" dy="22">kernel_shape = 3, 3</tspan><tspan x="12" dy="22">pads = 1, 1, 1, 1</tspan><tspan x="12" dy="22">strides = 1, 1</tspan></text></g>
<g id="b_id8" transform="translate(2014,2064)"><rect class="bd" width="139" height="71" rx="6"/><path class="h bk" d="M0,38V6a6,6 0 0 1 6-6h127a6,6 0 0 1 6,6v32z"/><text class="t" x="12" y="25.5">Identity</text><text class="a" x="12" y="59"><tspan class="b">input</tspan> ⟨64⟩</text></g>
<g id="b_relu6" transform="translate(2240,2215)"><rect class="h ac" width="68" height="38" rx="6"/><text class="t c" x="34" y="26">Relu</text></g>
<g id="b_conv7" transform="translate(2096,2289)"><rect class="bd" width="167" height="159" rx="6"/><path class="h cv" d="M0,38V6a6,6 0 0 1 6-6h155a6,6 0 0 1 6,6v32z"/><text class="t" x="12" y="25.5">Conv</text><text class="a" x="12" y="59"><tspan class="b">W</tspan> ⟨64×64×3×3⟩<tspan x="12" dy="22">dilations = 1, 1</tspan><tspan x="12" dy="22">kernel_shape = 3, 3</tspan><tspan x="12" dy="22">pads = 1, 1, 1, 1</tspan><tspan x="12" dy="22">strides = 1, 1</tspan></text></g>
<g id="b_add2" transform="translate(2086,2485)"><rect class="h bk" width="63" height="37" rx="6"/><text class="t c" x="31.5" y="25.5">Add</text></g>
<g id="b_relu7" transform="translate(2083,2559)"><rect class="h ac" width="68" height="37" rx="6"/><text class="t c" x="34" y="25.5">Relu</text></g>
<g id="b_gap0" transform="translate(2016,2633)"><rect class="h pl" width="203" height="38" rx="6"/><text class="t c" x="101.5" y="26">GlobalAveragePool</text></g>
<g id="b_reshape1" transform="translate(2048,2707)"><rect class="bd" width="139" height="93" rx="6"/><path class="h sh" d="M0,38V6a6,6 0 0 1 6-6h127a6,6 0 0 1 6,6v32z"/><text class="t" x="12" y="25.5">Reshape</text><text class="a" x="12" y="59"><tspan class="b">shape</tspan> ⟨2⟩<tspan x="12" dy="22">allowzero = 0</tspan></text></g>
<g id="b_conv8" transform="translate(2624,2019)"><rect class="bd" width="167" height="159" rx="6"/><path class="h cv" d="M0,38V6a6,6 0 0 1 6-6h155a6,6 0 0 1 6,6v32z"/><text class="t" x="12" y="25.5">Conv</text><text class="a" x="12" y="59"><tspan class="b">W</tspan> ⟨64×64×3×3⟩<tspan x="12" dy="22">dilations = 1, 1</tspan><tspan x="12" dy="22">kernel_shape = 3, 3</tspan><tspan x="12" dy="22">pads = 1, 1, 1, 1</tspan><tspan x="12" dy="22">strides = 1, 1</tspan></text></g>
<g id="b_id9" transform="translate(2447,2064)"><rect class="bd" width="139" height="71" rx="6"/><path class="h bk" d="M0,38V6a6,6 0 0 1 6-6h127a6,6 0 0 1 6,6v32z"/><text class="t" x="12" y="25.5">Identity</text><text class="a" x="12" y="59"><tspan class="b">input</tspan> ⟨64⟩</text></g>
<g id="b_relu8" transform="translate(2673,2215)"><rect class="h ac" width="68" height="38" rx="6"/><text class="t c" x="34" y="26">Relu</text></g>
<g id="b_conv9" transform="translate(2530,2289)"><rect class="bd" width="167" height="159" rx="6"/><path class="h cv" d="M0,38V6a6,6 0 0 1 6-6h155a6,6 0 0 1 6,6v32z"/><text class="t" x="12" y="25.5">Conv</text><text class="a" x="12" y="59"><tspan class="b">W</tspan> ⟨64×64×3×3⟩<tspan x="12" dy="22">dilations = 1, 1</tspan><tspan x="12" dy="22">kernel_shape = 3, 3</tspan><tspan x="12" dy="22">pads = 1, 1, 1, 1</tspan><tspan x="12" dy="22">strides = 1, 1</tspan></text></g>
<g id="b_add3" transform="translate(2520,2485)"><rect class="h bk" width="63" height="37" rx="6"/><text class="t c" x="31.5" y="25.5">Add</text></g>
<g id="b_relu9" transform="translate(2518,2559)"><rect class="h ac" width="68" height="37" rx="6"/><text class="t c" x="34" y="25.5">Relu</text></g>
<g id="b_gap1" transform="translate(2451,2633)"><rect class="h pl" width="203" height="38" rx="6"/><text class="t c" x="101.5" y="26">GlobalAveragePool</text></g>
<g id="b_reshape2" transform="translate(2483,2707)"><rect class="bd" width="139" height="93" rx="6"/><path class="h sh" d="M0,38V6a6,6 0 0 1 6-6h127a6,6 0 0 1 6,6v32z"/><text class="t" x="12" y="25.5">Reshape</text><text class="a" x="12" y="59"><tspan class="b">shape</tspan> ⟨2⟩<tspan x="12" dy="22">allowzero = 0</tspan></text></g>
<g id="b_id10" transform="translate(1904,2837)"><rect class="bd" width="139" height="71" rx="6"/><path class="h bk" d="M0,38V6a6,6 0 0 1 6-6h127a6,6 0 0 1 6,6v32z"/><text class="t" x="12" y="25.5">Identity</text><text class="a" x="12" y="59"><tspan class="b">input</tspan> ⟨64⟩</text></g>
<g id="b_id11" transform="translate(2081,2837)"><rect class="bd" width="139" height="71" rx="6"/><path class="h bk" d="M0,38V6a6,6 0 0 1 6-6h127a6,6 0 0 1 6,6v32z"/><text class="t" x="12" y="25.5">Identity</text><text class="a" x="12" y="59"><tspan class="b">input</tspan> ⟨64⟩</text></g>
<g id="b_concat" transform="translate(2256,2837)"><rect class="bd" width="139" height="71" rx="6"/><path class="h tn" d="M0,38V6a6,6 0 0 1 6-6h127a6,6 0 0 1 6,6v32z"/><text class="t" x="12" y="25.5">Concat</text><text class="a" x="12" y="59">axis = 1</text></g>
<g id="b_gemm0" transform="translate(2256,2943)"><rect class="bd" width="139" height="115" rx="6"/><path class="h cv" d="M0,38V6a6,6 0 0 1 6-6h127a6,6 0 0 1 6,6v32z"/><text class="t" x="12" y="25.5">Gemm</text><text class="a" x="12" y="59"><tspan class="b">B</tspan> ⟨64×128⟩<tspan x="12" dy="22" class="b">C</tspan> ⟨64⟩<tspan x="12" dy="22">transB = 1</tspan></text></g>
<g id="b_bn" transform="translate(2044,3096)"><rect class="bd" width="210" height="115" rx="6"/><path class="h nm" d="M0,38V6a6,6 0 0 1 6-6h198a6,6 0 0 1 6,6v32z"/><text class="t" x="12" y="25.5">BatchNormalization</text><text class="a" x="12" y="59"><tspan class="b">scale</tspan> ⟨64⟩<tspan x="12" dy="22" class="b">B</tspan> ⟨64⟩<tspan x="12" dy="22">training_mode = 0</tspan></text></g>
<g id="b_relu10" transform="translate(2115,3248)"><rect class="h ac" width="69" height="37" rx="6"/><text class="t c" x="34.5" y="25.5">Relu</text></g>
<g id="b_gemm1" transform="translate(2080,3322)"><rect class="bd" width="139" height="115" rx="6"/><path class="h cv" d="M0,38V6a6,6 0 0 1 6-6h127a6,6 0 0 1 6,6v32z"/><text class="t" x="12" y="25.5">Gemm</text><text class="a" x="12" y="59"><tspan class="b">B</tspan> ⟨2×64⟩<tspan x="12" dy="22" class="b">C</tspan> ⟨2⟩<tspan x="12" dy="22">transB = 1</tspan></text></g>
<g id="b_sigmoid" transform="translate(2099,3473)"><rect class="h ac" width="100" height="38" rx="6"/><text class="t c" x="50" y="26">Sigmoid</text></g>
<g id="b_output" transform="translate(2103,3587)"><rect class="h io" width="91" height="37" rx="6"/><text class="k c" x="45.5" y="25.5">output</text></g>
</g>
<g id="captions">
<text class="cap" x="790" y="3803" text-anchor="middle">(<tspan font-weight="bold">a</tspan>)</text>
<text class="cap" x="2462" y="3803" text-anchor="middle">(<tspan font-weight="bold">b</tspan>)</text>
</g>
</svg>
